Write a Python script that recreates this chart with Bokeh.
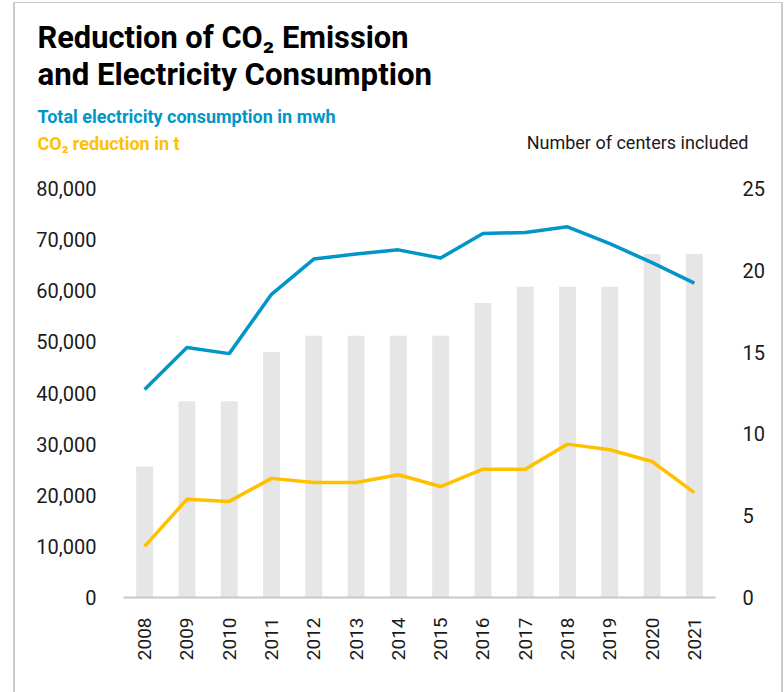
import math
from bokeh.plotting import figure
from bokeh.models import (Range1d, LinearAxis, FixedTicker, NumeralTickFormatter,
                          Title, FactorRange)
from bokeh.embed import file_html
from bokeh.resources import INLINE

# ---- data ----
years = ["2008", "2009", "2010", "2011", "2012", "2013", "2014",
         "2015", "2016", "2017", "2018", "2019", "2020", "2021"]
electricity_mwh = [40700, 48900, 47700, 59300, 66200, 67200, 68000,
                   66400, 71200, 71400, 72500, 69200, 65500, 61500]
co2_reduction_t = [10000, 19200, 18800, 23300, 22500, 22500, 24000,
                   21700, 25100, 25100, 30000, 28900, 26600, 20500]
centers_included = [8, 12, 12, 15, 16, 16, 16, 16, 18, 19, 19, 19, 21, 21]
left_ticks = [0, 10000, 20000, 30000, 40000, 50000, 60000, 70000, 80000]
right_ticks = [0, 5, 10, 15, 20, 25]

BLUE = "#0096c8"
YELLOW = "#ffc000"
BAR = "#e6e6e6"
BORDER = "#c8cec4"
FONT = "Roboto"

OX, OY = 15, 3           # canvas origin on the page (inside CSS border)
W, H = 770, 690
FL, FR, FT, FB = 123, 715, 188, 597   # frame edges on the page

p = figure(width=W, height=H,
           x_range=FactorRange(factors=years, range_padding=0),
           y_range=Range1d(0, 80000),
           output_backend="svg", toolbar_location=None,
           min_border_left=FL - OX, min_border_right=OX + W - FR,
           min_border_top=FT - OY, min_border_bottom=OY + H - FB)
p.styles = {"margin-left": "13px", "margin-top": "2px",
            "border-left": f"2px solid {BORDER}",
            "border-top": f"1px solid {BORDER}",
            "border-right": f"2px solid {BORDER}"}
p.title.visible = False
p.outline_line_color = None
p.xgrid.visible = False
p.ygrid.visible = False

p.extra_y_ranges = {"centers": Range1d(0, 25)}

p.vbar(x=years, top=centers_included, width=0.4, y_range_name="centers",
       fill_color=BAR, line_color=None)
p.line(x=years, y=electricity_mwh, line_color=BLUE, line_width=3.5)
p.line(x=years, y=co2_reduction_t, line_color=YELLOW, line_width=3.5)

def style_axis(ax, size="20px"):
    ax.major_tick_line_color = None
    ax.minor_tick_line_color = None
    ax.major_label_text_font = FONT
    ax.major_label_text_font_size = size
    ax.major_label_text_color = "#1a1a1a"

ly = p.yaxis[0]
ly.ticker = FixedTicker(ticks=left_ticks)
ly.formatter = NumeralTickFormatter(format="0,0")
ly.axis_line_color = None
ly.major_label_standoff = 21
style_axis(ly)

ry = LinearAxis(y_range_name="centers", ticker=FixedTicker(ticks=right_ticks))
ry.axis_line_color = None
ry.major_label_standoff = 21
style_axis(ry)
p.add_layout(ry, "right")

bx = p.xaxis[0]
bx.axis_line_color = "#c3cbc0"
bx.axis_line_width = 2
bx.major_label_orientation = math.pi / 2
bx.major_label_standoff = 14
style_axis(bx, "19px")

# ---- header texts as stacked titles (first added = nearest the frame) ----
def h_of(size):
    return 1.13 * size

def spacer(gap):
    p.add_layout(Title(text=".", text_font_size="2px", standoff=gap - 2 - h_of(2),
                       text_color="white"), "above")

def ttl(text, size, color, style="bold", x=37, align="left"):
    off = (x - FL) if align == "left" else (FR - x)
    p.add_layout(Title(text=text, text_font=FONT, text_font_size=f"{size}px",
                       text_font_style=style, text_color=color,
                       align=align, offset=off, vertical_align="middle",
                       standoff=-(2 + h_of(size))), "above")

spacer(46)
ttl("CO\u2082 reduction in t", 18, YELLOW)
ttl("Number of centers included", 18, "#1a1a1a", style="normal", x=748, align="right")
spacer(26)
ttl("Total electricity consumption in mwh", 18, BLUE)
spacer(41)
ttl("and Electricity Consumption", 31.2, "#000000")
spacer(36)
ttl("Reduction of CO\u2082 Emission", 30.8, "#000000")

open("out.html", "w").write(file_html(p, INLINE))
